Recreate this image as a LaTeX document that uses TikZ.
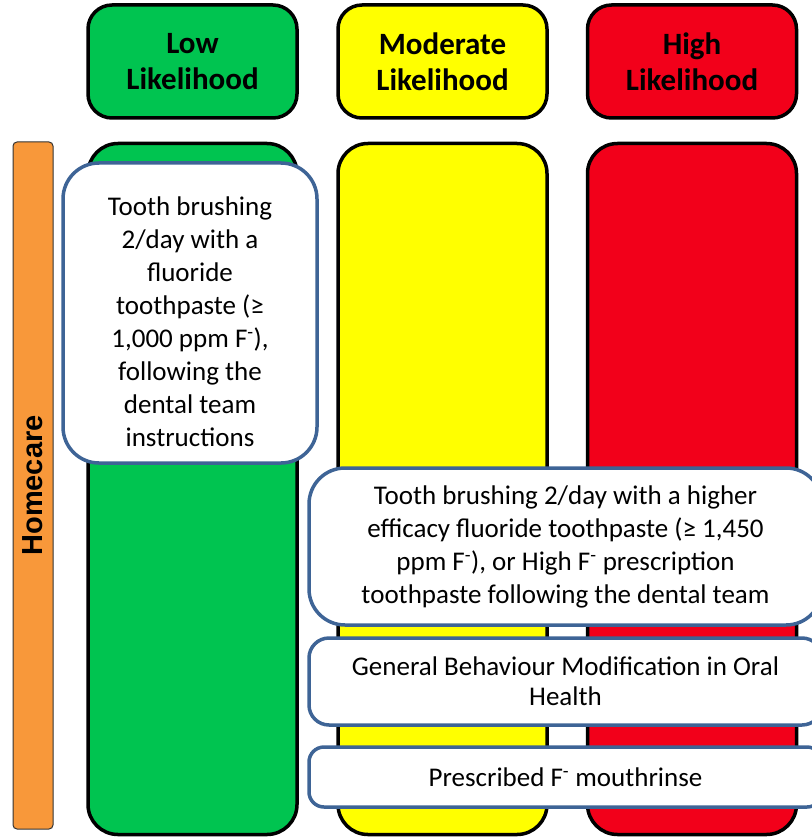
\documentclass[tikz,border=0pt]{standalone}
\usepackage{fontspec}
\setmainfont{Carlito}
\newfontfamily\homefont{Liberation Sans}
\definecolor{cgreen}{RGB}{0,196,80}
\definecolor{cyellow}{RGB}{255,255,0}
\definecolor{cred}{RGB}{242,0,26}
\definecolor{corange}{RGB}{248,152,58}
\definecolor{cblue}{RGB}{62,100,150}
\tikzset{
  header/.style={draw=black, line width=3.5pt, rounded corners=24pt, minimum width=209pt, minimum height=113pt, align=center, font=\fontsize{31}{36}\selectfont\bfseries, inner sep=0pt},
  column/.style={draw=black, line width=3.5pt, rounded corners=30pt, minimum width=209pt, minimum height=691pt, inner sep=0pt},
  whitebox/.style={draw=cblue, fill=white, line width=3.5pt, align=center, inner sep=0pt},
}
\begin{document}
\begin{tikzpicture}[x=1pt,y=-1pt]
\useasboundingbox (0,0) rectangle (811,837);
% headers
\node[header, fill=cgreen] (hlow) at (192.5,61.5) {Low\\Likelihood};
\node[header, fill=cyellow] (hmod) at (442.5,61.5) {Moderate\\Likelihood};
\node[header, fill=cred] (hhigh) at (692,61.5) {High\\Likelihood};
% columns
\node[column, fill=cgreen] (clow) at (192.5,489) {};
\node[column, fill=cyellow] (cmod) at (442.5,489) {};
\node[column, fill=cred] (chigh) at (692,489) {};
% homecare bar
\node[draw=black!80, line width=1pt, fill=corange, rounded corners=4pt, minimum width=40pt, minimum height=687pt, inner sep=0pt] (bar) at (33,485.5) {};
\node[rotate=90, font=\homefont\fontsize{29}{32}\selectfont\bfseries] (home) at (bar.center) {Homecare};
% white boxes
\node[whitebox, rounded corners=36pt, minimum width=254pt, minimum height=300pt] (b1) at (190,313) {};
\node[align=center, inner sep=0pt, font=\fontsize{27}{33}\selectfont] (b1text) at (190,322)
  {Tooth brushing\\2/day with a\\fluoride\\toothpaste (≥\\1,000 ppm F\textsuperscript{-}),\\following the\\dental team\\instructions};
\node[whitebox, rounded corners=36pt, minimum width=513pt, minimum height=157pt, font=\fontsize{27}{33}\selectfont] (b2) at (565.5,546.5)
  {Tooth brushing 2/day with a higher\\efficacy fluoride toothpaste (≥ 1,450\\ppm F\textsuperscript{-}), or High F\textsuperscript{-} prescription\\toothpaste following the dental team};
\node[whitebox, rounded corners=20pt, minimum width=513pt, minimum height=87pt, font=\fontsize{27}{30}\selectfont] (b3) at (565.5,681.5)
  {General Behaviour Modification in Oral\\Health};
\node[whitebox, rounded corners=15pt, minimum width=513pt, minimum height=60pt, font=\fontsize{27}{30}\selectfont] (b4) at (565.5,777)
  {Prescribed F\textsuperscript{-} mouthrinse};
\end{tikzpicture}
\end{document}
